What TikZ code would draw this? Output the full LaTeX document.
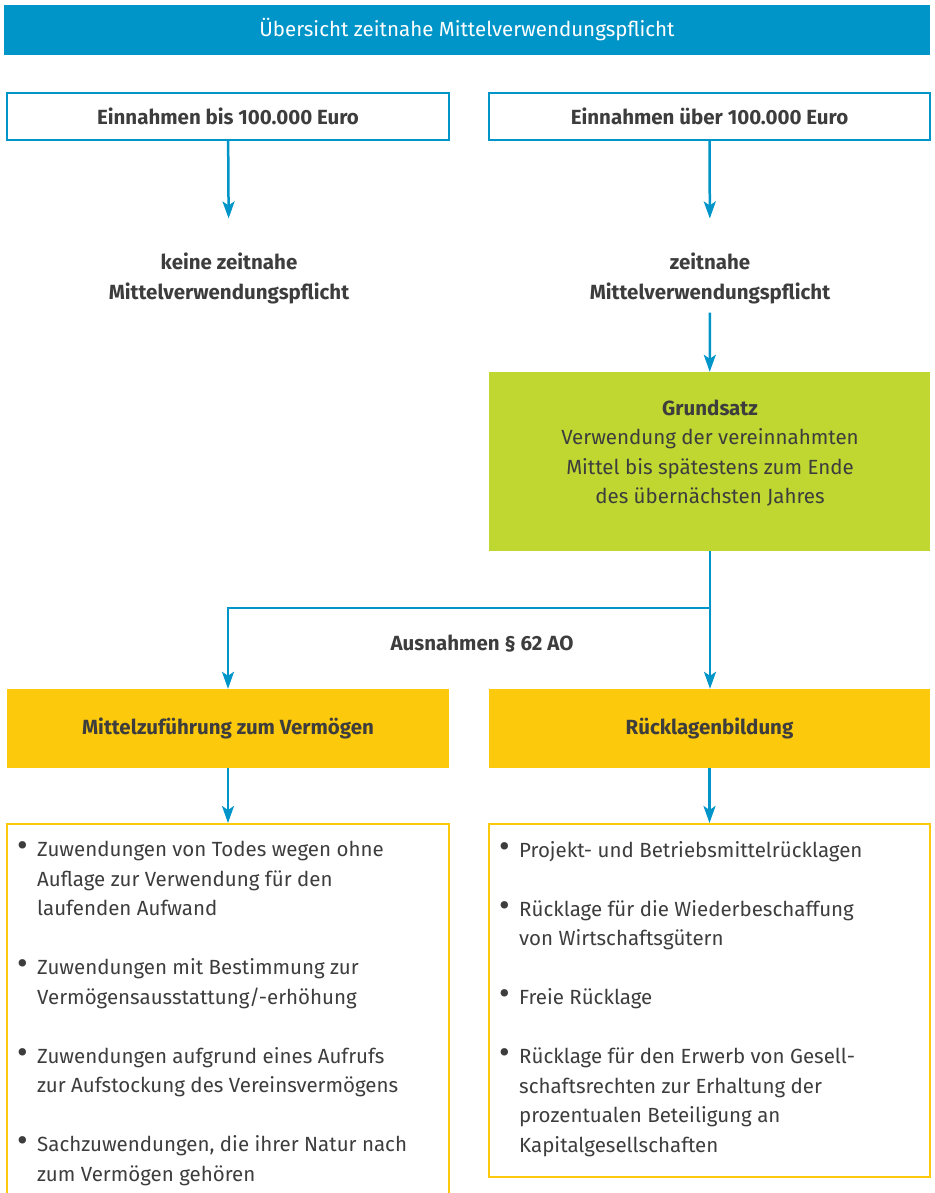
\documentclass[tikz,border=0pt]{standalone}
\usepackage{fontspec}
\setmainfont{Fira Sans}
\usetikzlibrary{arrows.meta}
\definecolor{vblue}{RGB}{0,149,200}
\definecolor{vgreen}{RGB}{191,215,48}
\definecolor{vorange}{RGB}{253,201,12}
\definecolor{vtext}{RGB}{61,61,61}
\newcommand{\bl}{\makebox[20pt][l]{\scalebox{1.6}{\textbullet}}}
\newcommand{\ind}{\hspace*{20pt}}
\begin{document}
\begin{tikzpicture}[x=1pt,y=-1pt,
  every node/.style={text=vtext},
  body/.style={font=\fontsize{20.5}{29.5}\selectfont, inner sep=0pt},
  head/.style={font=\fontsize{20.5}{30.5}\selectfont\bfseries, inner sep=0pt},
  wbox/.style={draw=vblue, line width=2pt, fill=white, minimum height=47pt},
  fbox/.style={minimum width=442pt, inner sep=0pt},
  lbox/.style={draw=vorange, line width=2pt, minimum width=442pt, inner sep=0pt},
  arr/.style={draw=vblue, line width=2.5pt, -{Stealth[length=17pt, width=12pt, inset=4pt]}}]
\def\gap{29.5pt}
\useasboundingbox (0,0) rectangle (934,1193);
% title
\node [fill=vblue, minimum width=926pt, minimum height=50pt, inner sep=0pt, name=title] at (467,30)
  {\color{white}\fontsize{20.5}{24}\selectfont Übersicht zeitnahe Mittelverwendungspflicht};
% einnahmen
\node [wbox, head, minimum width=442pt, name=e1] at (228,116.5) {Einnahmen bis 100.000 Euro};
\node [wbox, head, minimum width=441pt, name=e2] at (709.5,116.5) {Einnahmen über 100.000 Euro};
\node [head, align=center, name=k1] at (229,278.5) {keine zeitnahe\\Mittelverwendungspflicht};
\node [head, align=center, name=k2] at (710,278.5) {zeitnahe\\Mittelverwendungspflicht};
\draw [arr, shorten >=34pt] (e1) -- (k1);
\draw [arr, shorten >=34pt] (e2) -- (k2);
% grundsatz
\node [fbox, fill=vgreen, minimum width=441pt, minimum height=179pt, name=gs] at (709.5,461.5) {};
\node [body, align=center, name=gstext] at (710,453)
  {\bfseries Grundsatz\\Verwendung der vereinnahmten\\Mittel bis spätestens zum Ende\\des übernächsten Jahres};
\draw [arr, shorten <=8pt] (k2) -- (gs);
% ausnahmen
\node [fbox, head, fill=vorange, minimum height=79pt, name=mz] at (228,728.5) {Mittelzuführung zum Vermögen};
\node [fbox, head, fill=vorange, minimum width=441pt, minimum height=79pt, name=rb] at (709.5,728.5) {Rücklagenbildung};
\node [head, name=ao] at (482,644) {Ausnahmen § 62 AO};
\coordinate (split) at (710,608);
\draw [arr] (gs.south -| split) -- (split) -| (mz.north);
\draw [arr] (split) -- (rb.north -| split);
% listen
\node [lbox, minimum height=392pt, anchor=north, name=l1] at (228,823) {};
\node [lbox, minimum width=441pt, minimum height=353pt, anchor=north, name=l2] at (709.5,823) {};
\draw [arr] (mz) -- (l1);
\draw [arr] (rb) -- (l2);
\node [body, align=left, anchor=north west, name=l1text] at (17,841)
  {\bl Zuwendungen von Todes wegen ohne\\ \ind Auflage zur Verwendung für den\\ \ind laufenden Aufwand\\[\gap]
   \bl Zuwendungen mit Bestimmung zur\\ \ind Vermögensausstattung/-erhöhung\\[\gap]
   \bl Zuwendungen aufgrund eines Aufrufs\\ \ind zur Aufstockung des Vereinsvermögens\\[\gap]
   \bl Sachzuwendungen, die ihrer Natur nach\\ \ind zum Vermögen gehören};
\node [body, align=left, anchor=north west, name=l2text] at (499,841)
  {\bl Projekt- und Betriebsmittelrücklagen\\[\gap]
   \bl Rücklage für die Wiederbeschaffung\\ \ind von Wirtschaftsgütern\\[\gap]
   \bl Freie Rücklage\\[\gap]
   \bl Rücklage für den Erwerb von Gesell-\\ \ind schaftsrechten zur Erhaltung der\\ \ind prozentualen Beteiligung an\\ \ind Kapitalgesellschaften};
\end{tikzpicture}
\end{document}
